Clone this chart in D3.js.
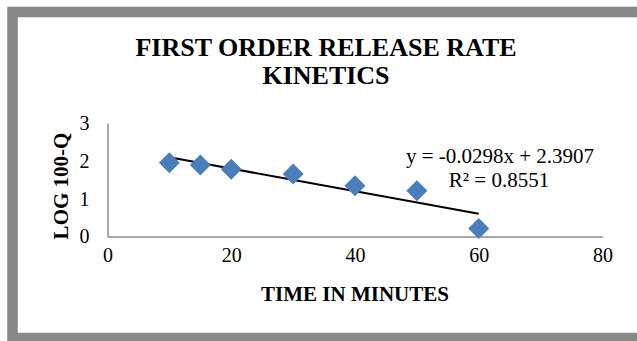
<!DOCTYPE html>
<html>
<head>
<meta charset="utf-8">
<script src="https://cdn.jsdelivr.net/npm/d3@7"></script>
<style>
  html, body { margin: 0; padding: 0; background: #fff; }
  svg { display: block; }
  text { font-family: "Liberation Serif", "Times New Roman", serif; }
</style>
</head>
<body>
<svg id="chart" width="637" height="341"></svg>
<script>
// Release data: time (min) vs log of percent drug remaining
const times = [10, 15, 20, 30, 40, 50, 60];
const logRemaining = [1.95, 1.89, 1.78, 1.65, 1.34, 1.21, 0.21];

// Linear trendline reported on the chart
const slope = -0.0298;
const intercept = 2.3907;
const rSquared = 0.8551;

const xTicks = [0, 20, 40, 60, 80];
const yTicks = [0, 1, 2, 3];

const titleLines = ["FIRST ORDER RELEASE RATE", "KINETICS"];
const xTitle = "TIME IN MINUTES";
const yTitle = "LOG 100-Q";

const serif = "'Liberation Serif', 'Times New Roman', serif";
const svg = d3.select("#chart");

// Outer chart frame
svg.append("rect")
  .attr("x", 12.5).attr("y", 12)
  .attr("width", 640).attr("height", 326)
  .attr("fill", "#fff")
  .attr("stroke", "#878787")
  .attr("stroke-width", 10.5);

const x = d3.scaleLinear().domain([0, 80]).range([107.5, 602.5]);
const y = d3.scaleLinear().domain([0, 3]).range([236.5, 123]);

const axisColor = "#8c8c8c";

// Axes: plain lines with number labels, no tick marks
const xAxis = svg.append("g")
  .attr("transform", `translate(0,${y(0)})`)
  .call(d3.axisBottom(x).tickValues(xTicks).tickSize(0).tickPadding(10).tickFormat(d3.format("d")))
  .attr("font-family", serif);
xAxis.select(".domain").attr("stroke", axisColor).attr("stroke-width", 1.5);
xAxis.selectAll("text")
  .attr("font-size", 20)
  .attr("fill", "#000")
  .attr("dy", "0.75em");

const yAxis = svg.append("g")
  .attr("transform", `translate(${x(0)},0)`)
  .call(d3.axisLeft(y).tickValues(yTicks).tickSize(0).tickPadding(18).tickFormat(d3.format("d")))
  .attr("font-family", serif);
yAxis.select(".domain").attr("stroke", axisColor).attr("stroke-width", 1.5);
yAxis.selectAll("text")
  .attr("font-size", 20)
  .attr("fill", "#000");

// Trendline across the data range
const xMin = d3.min(times), xMax = d3.max(times);
svg.append("line")
  .attr("x1", x(xMin)).attr("y1", y(slope * xMin + intercept))
  .attr("x2", x(xMax)).attr("y2", y(slope * xMax + intercept))
  .attr("stroke", "#000")
  .attr("stroke-width", 2);

// Diamond markers
const half = 10.5;
const diamond = `M0,${-half}L${half},0L0,${half}L${-half},0Z`;
svg.append("g")
  .selectAll("path")
  .data(times.map((t, i) => [t, logRemaining[i]]))
  .join("path")
  .attr("d", diamond)
  .attr("transform", d => `translate(${x(d[0])},${y(d[1])})`)
  .attr("fill", "#4a7ebb");

// Trendline equation
const eq = svg.append("text")
  .attr("text-anchor", "middle")
  .attr("font-size", 21);
eq.append("tspan").attr("x", 500).attr("y", 163)
  .text(`y = ${slope}x + ${intercept}`);
eq.append("tspan").attr("x", 499).attr("y", 187)
  .text(`R² = ${rSquared}`);

// Chart title
svg.append("text")
  .attr("text-anchor", "middle")
  .attr("font-weight", "bold")
  .attr("font-size", 26)
  .selectAll("tspan")
  .data(titleLines)
  .join("tspan")
  .attr("x", 326)
  .attr("y", (d, i) => 56 + i * 28)
  .text(d => d);

// Axis titles
svg.append("text")
  .attr("x", 355).attr("y", 301)
  .attr("text-anchor", "middle")
  .attr("font-weight", "bold")
  .attr("font-size", 21)
  .text(xTitle);

svg.append("text")
  .attr("transform", "translate(68,186) rotate(-90)")
  .attr("text-anchor", "middle")
  .attr("font-weight", "bold")
  .attr("font-size", 21)
  .text(yTitle);
</script>
</body>
</html>
